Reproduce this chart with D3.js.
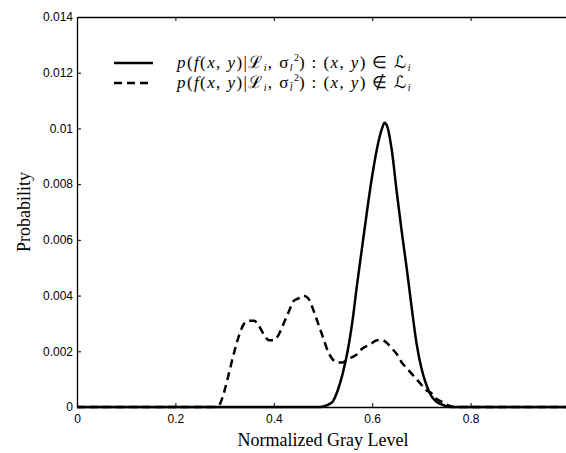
<!DOCTYPE html>
<html>
<head>
<meta charset="utf-8">
<script src="https://cdn.jsdelivr.net/npm/d3@7"></script>
<style>
body { margin: 0; background: #fff; }
svg { display: block; }
.tick text { font-family: "Liberation Sans", Arial, sans-serif; font-size: 12px; fill: #000; }
</style>
</head>
<body>
<div id="chart"></div>
<script>
// gray level samples (x) and probabilities
var xInside = [0, 0.49, 0.50, 0.51, 0.52, 0.53, 0.54, 0.55, 0.56, 0.57, 0.58, 0.59, 0.60, 0.61, 0.62, 0.625,
    0.63, 0.64, 0.65, 0.66, 0.67, 0.68, 0.69, 0.70, 0.71, 0.72, 0.73, 0.74, 0.75, 0.76, 1.0];
var pInside = [0, 0, 0.00002, 0.00008, 0.0002, 0.0006, 0.0012, 0.0020, 0.0031, 0.0045, 0.0058, 0.0071, 0.0083, 0.0093, 0.0100, 0.0102,
    0.0101, 0.0092, 0.0077, 0.0063, 0.0050, 0.0036, 0.0023, 0.0014, 0.0008, 0.0004, 0.0002, 0.0001, 0.00003, 0, 0];

var xOutside = [0, 0.28, 0.29, 0.30, 0.31, 0.32, 0.33, 0.34, 0.35, 0.36, 0.37, 0.38, 0.39, 0.40, 0.41, 0.42, 0.43, 0.44,
    0.45, 0.46, 0.47, 0.48, 0.49, 0.50, 0.51, 0.52, 0.53, 0.54, 0.55, 0.56, 0.57, 0.58, 0.59, 0.60, 0.61, 0.62,
    0.63, 0.64, 0.65, 0.66, 0.67, 0.68, 0.69, 0.70, 0.71, 0.72, 0.73, 0.74, 0.75, 0.76, 0.77, 1.0];
var pOutside = [0, 0, 0.0001, 0.0006, 0.0013, 0.0020, 0.0026, 0.0030, 0.0031, 0.0031, 0.0029, 0.0026, 0.0024, 0.0024, 0.0026, 0.0030, 0.0034, 0.0038,
    0.0039, 0.0040, 0.0039, 0.0035, 0.0030, 0.0025, 0.0020, 0.0017, 0.0016, 0.0016, 0.0017, 0.0018, 0.0019, 0.0021, 0.0022, 0.0023, 0.0024, 0.0024,
    0.0023, 0.0021, 0.0019, 0.0016, 0.0014, 0.0012, 0.0010, 0.0008, 0.0006, 0.0005, 0.0003, 0.0002, 0.0001, 0.00003, 0, 0];

var xTicks = [0, 0.2, 0.4, 0.6, 0.8];
var yTicks = [0, 0.002, 0.004, 0.006, 0.008, 0.01, 0.012, 0.014];

var svgWidth = 566;
var svgHeight = 453;
var margin = { top: 17, left: 77, bottom: 46, right: -3 };
var width = svgWidth - margin.left - margin.right;
var height = svgHeight - margin.top - margin.bottom;

var svg = d3.select("#chart").append("svg")
    .attr("width", svgWidth)
    .attr("height", svgHeight);

var chartGroup = svg.append("g")
    .attr("transform", `translate(${margin.left}, ${margin.top})`);

var xLinearScale = d3.scaleLinear().domain([0, 1]).range([0, width]);
var yLinearScale = d3.scaleLinear().domain([0, 0.014]).range([height, 0]);

var fmt = d => d === 0 ? "0" : String(d);

// bottom / left axes, ticks point inward
var xAxis = chartGroup.append("g")
    .attr("transform", `translate(0, ${height})`)
    .call(d3.axisBottom(xLinearScale).tickValues(xTicks).tickFormat(fmt).tickSizeInner(-4).tickSizeOuter(0).tickPadding(7));

var yAxis = chartGroup.append("g")
    .call(d3.axisLeft(yLinearScale).tickValues(yTicks).tickFormat(fmt).tickSizeInner(-4).tickSizeOuter(0).tickPadding(4));

// top border with ticks
chartGroup.append("g")
    .call(d3.axisTop(xLinearScale).tickValues(xTicks).tickFormat("").tickSizeInner(-4).tickSizeOuter(0));

chartGroup.selectAll(".domain").attr("stroke", "#000").attr("stroke-width", 1.3);
chartGroup.selectAll(".tick line").attr("stroke", "#000");

var line = d3.line()
    .x(d => xLinearScale(d[0]))
    .y(d => yLinearScale(d[1]))
    .curve(d3.curveMonotoneX);

chartGroup.append("path")
    .datum(d3.zip(xOutside, pOutside))
    .attr("d", line)
    .attr("fill", "none")
    .attr("stroke", "#000")
    .attr("stroke-width", 2.5)
    .attr("stroke-dasharray", "8,5");

chartGroup.append("path")
    .datum(d3.zip(xInside, pInside))
    .attr("d", line)
    .attr("fill", "none")
    .attr("stroke", "#000")
    .attr("stroke-width", 2.5);

// axis titles
svg.append("text")
    .attr("x", margin.left + width / 2)
    .attr("y", 446)
    .attr("text-anchor", "middle")
    .style("font-family", "'Liberation Serif', 'Times New Roman', serif")
    .style("font-size", "18px")
    .text("Normalized Gray Level");

svg.append("text")
    .attr("transform", `translate(30, ${margin.top + height / 2}) rotate(-90)`)
    .attr("text-anchor", "middle")
    .style("font-family", "'Liberation Serif', 'Times New Roman', serif")
    .style("font-size", "18px")
    .text("Probability");

// legend
var legend = svg.append("g");
legend.append("line").attr("x1", 114).attr("x2", 153).attr("y1", 63).attr("y2", 63)
    .attr("stroke", "#000").attr("stroke-width", 2.5);
legend.append("line").attr("x1", 114).attr("x2", 153).attr("y1", 83).attr("y2", 83)
    .attr("stroke", "#000").attr("stroke-width", 2.5).attr("stroke-dasharray", "8,5");

function legendText(y, subL, relation) {
    var t = legend.append("text")
        .attr("x", 177)
        .attr("y", y)
        .attr("xml:space", "preserve")
        .style("white-space", "pre")
        .style("letter-spacing", "1.4px")
        .style("font-family", "'Liberation Serif', 'Times New Roman', serif")
        .style("font-size", "17px");
    // sigma gets subscript then superscript, side by side
    var parts = [
        ["p", "i"], ["(", ""], ["f", "i"], ["(", ""], ["x", "i"], [", ", ""], ["y", "i"], [")|", ""],
        ["ℒ", ""], ["i", "sub"], [", σ", "back"], [subL, "sub"], ["2", "sup"],
        [") : (", "back"], ["x", "i"], [", ", ""], ["y", "i"], [") " + relation + " ", ""], ["ℒ", ""], ["i", "sub"]
    ];
    parts.forEach(p => {
        var s = t.append("tspan").text(p[0]);
        if (p[1] === "i") s.style("font-style", "italic");
        if (p[1] === "sub") s.style("font-style", "italic").style("font-size", "10px").attr("dy", 3);
        if (p[1] === "back") s.attr("dy", p[0].indexOf("σ") >= 0 ? -3 : 7);
        if (p[1] === "sup") s.style("font-size", "10px").attr("dy", -10).style("letter-spacing", "0px");
    });
}
legendText(68, "l", "∈");
legendText(88, "l̄", "∉");
</script>
</body>
</html>
